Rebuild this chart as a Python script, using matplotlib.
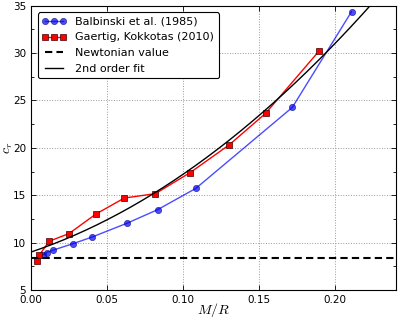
import numpy as np
import matplotlib
matplotlib.use('Agg')
import matplotlib.pyplot as plt
from matplotlib.ticker import MultipleLocator

plt.rcParams['mathtext.fontset'] = 'cm'

# dati
balb_x = [0.0077, 0.0103, 0.0143, 0.0278, 0.0403, 0.063, 0.0833, 0.1085, 0.172, 0.211]
balb_y = [8.69, 8.95, 9.19, 9.89, 10.59, 12.03, 13.47, 15.72, 24.27, 34.38]

gk_x = [0.0041, 0.0055, 0.012, 0.025, 0.0426, 0.0614, 0.0818, 0.1046, 0.1305, 0.1544, 0.1897]
gk_y = [8.1, 8.7, 10.14, 10.95, 13.0, 14.7, 15.16, 17.37, 20.32, 23.64, 30.24]

newton = 8.42

# coefficienti del fit di secondo ordine: c0 + c1*x + c2*x^2
fit_coef = [9.0, 54.0, 280.0]

fig = plt.figure(figsize=(3.98, 3.2), dpi=100)
ax = fig.add_axes([0.078, 0.094, 0.916, 0.888])

ax.plot(balb_x, balb_y, 'o-', color='b', alpha=0.7, lw=1, ms=4.5,
        mec='#000060', mew=0.5, label='Balbinski et al. (1985)')
ax.plot(gk_x, gk_y, 's-', color='r', lw=1, ms=4,
        mec='#400000', mew=0.5, label='Gaertig, Kokkotas (2010)')
ax.axhline(newton, color='k', lw=1.5, dashes=(3.5, 2), label='Newtonian value')

xx = np.linspace(0, 0.24, 200)
ax.plot(xx, fit_coef[0] + fit_coef[1] * xx + fit_coef[2] * xx**2, 'k-', lw=1,
        label='2nd order fit')

ax.set_xlim(0, 0.24)
ax.set_ylim(5, 35)
ax.yaxis.set_major_locator(MultipleLocator(5))
ax.yaxis.set_minor_locator(MultipleLocator(2.5))
ax.set_xticks([0.0, 0.05, 0.10, 0.15, 0.20])
ax.set_xticklabels(['0.00', '0.05', '0.10', '0.15', '0.20'])
ax.tick_params(which='both', direction='in', top=True, right=True, labelsize=7.5)
ax.tick_params(which='major', length=3.5, width=0.6)
ax.tick_params(which='minor', length=2, width=0.6)
ax.grid(True, which='major', color='#999999', ls=':', lw=0.7)

ax.set_xlabel('$M/R$', fontsize=10)
ax.set_ylabel('$c_r$', fontsize=10)
ax.xaxis.set_label_coords(0.5, -0.04)
ax.yaxis.set_label_coords(-0.045, 0.5)

leg = ax.legend(loc='upper left', numpoints=3, fontsize=8, fancybox=True,
                framealpha=1, edgecolor='k', handlelength=2.2,
                borderaxespad=0.6, labelspacing=0.5)
leg.get_frame().set_linewidth(0.8)

fig.savefig('out.png', dpi=100)
